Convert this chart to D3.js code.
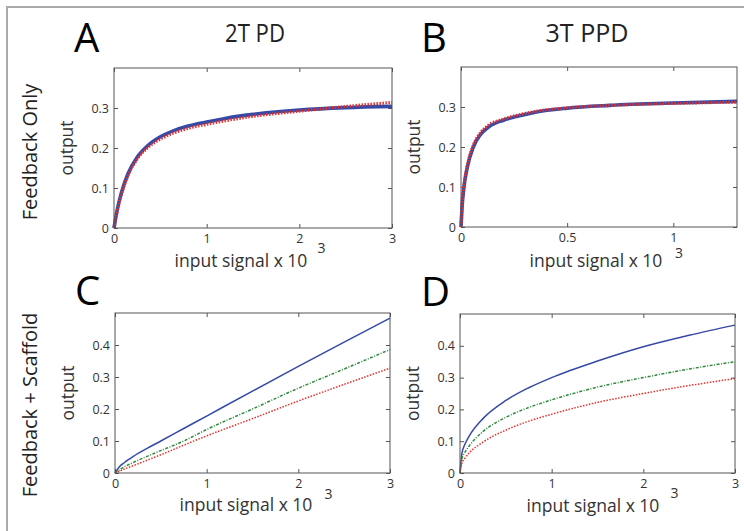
<!DOCTYPE html>
<html>
<head>
<meta charset="utf-8">
<script src="https://cdn.jsdelivr.net/npm/d3@7"></script>
<style>
  body { margin: 0; background: #fff; }
  text { font-family: "Open Sans", sans-serif; }
</style>
</head>
<body>
<svg width="744" height="531"></svg>
<script>

// ---- data ----
var xA     = [0, 0.03, 0.08, 0.15, 0.25, 0.36, 0.5, 0.64, 0.8, 1.0, 1.2, 1.5, 2.0, 2.5, 3.0];
var blueA  = [0, 0.04, 0.088, 0.135, 0.177, 0.205, 0.228, 0.243, 0.255, 0.265, 0.274, 0.284, 0.295, 0.301, 0.304];
var redA   = [0, 0.037, 0.084, 0.13, 0.172, 0.2, 0.222, 0.237, 0.249, 0.259, 0.268, 0.279, 0.292, 0.304, 0.314];

var xB     = [0, 0.005, 0.014, 0.03, 0.058, 0.09, 0.13, 0.2, 0.26, 0.35, 0.5, 0.7, 1.0, 1.3];
var blueB  = [0, 0.05, 0.1, 0.15, 0.2, 0.23, 0.25, 0.267, 0.276, 0.287, 0.297, 0.304, 0.31, 0.314];
var redB   = [0, 0.055, 0.105, 0.155, 0.205, 0.235, 0.255, 0.27, 0.279, 0.289, 0.298, 0.304, 0.309, 0.312];

var xC     = [0, 0.05, 0.1, 0.2, 0.35, 0.5, 0.75, 1, 1.5, 2, 2.5, 3];
var blueC  = [0, 0.02, 0.032, 0.052, 0.077, 0.1, 0.139, 0.178, 0.256, 0.333, 0.409, 0.484];
var greenC = [0, 0.01, 0.019, 0.033, 0.052, 0.07, 0.1, 0.136, 0.2, 0.265, 0.325, 0.386];
var redC   = [0, 0.006, 0.012, 0.023, 0.04, 0.057, 0.087, 0.116, 0.17, 0.225, 0.277, 0.328];

var xD     = [0, 0.02, 0.05, 0.1, 0.25, 0.5, 0.75, 1, 1.5, 2, 2.5, 3];
var blueD  = [0, 0.06, 0.088, 0.116, 0.171, 0.228, 0.268, 0.3, 0.352, 0.397, 0.433, 0.465];
var greenD = [0, 0.043, 0.063, 0.085, 0.13, 0.175, 0.206, 0.23, 0.27, 0.3, 0.327, 0.35];
var redD   = [0, 0.03, 0.045, 0.063, 0.097, 0.135, 0.163, 0.185, 0.222, 0.25, 0.275, 0.297];

var ticks3   = [0, 1, 2, 3];
var ticksB   = [0, 0.5, 1];
var yTicksAB = [0, 0.1, 0.2, 0.3];
var yTicksCD = [0, 0.1, 0.2, 0.3, 0.4];

var rowLabels = ["Feedback Only", "Feedback + Scaffold"];
var colTitles = ["2T PD", "3T PPD"];

// ---- styles ----
var BLUE = "#3549a6", RED = "#e5312b", GREEN = "#2d8a3c";
var thick = [
  { color: BLUE, width: 3.6, dash: null },
  { color: RED,  width: 3,   dash: "1.5,1.5" }
];
var thin = [
  { color: BLUE,  width: 1.5, dash: null },
  { color: GREEN, width: 1.5, dash: "3,1.5,1,1.5" },
  { color: RED,   width: 1.5, dash: "1.5,1.5" }
];

// layout of each panel (pixels), sup = superscript offsets [dx from label end, dy from label baseline]
var panels = [
  { letter: "A", lx: 74,  ly: 52,  left: 114, top: 68,  w: 278, h: 160, xmax: 3,   ymax: 0.4, xt: ticks3, yt: yTicksAB,
    xs: xA, series: [blueA, redA], st: thick, xlab: 241, lab: 38.5, sup: [10, -14] },
  { letter: "B", lx: 421, ly: 52,  left: 461, top: 67,  w: 276, h: 160, xmax: 1.3, ymax: 0.4, xt: ticksB, yt: yTicksAB,
    xs: xB, series: [blueB, redB], st: thick, xlab: 596, lab: 40, sup: [12.5, -9] },
  { letter: "C", lx: 75,  ly: 305, left: 115, top: 313, w: 275, h: 160, xmax: 3,   ymax: 0.5, xt: ticks3, yt: yTicksCD,
    xs: xC, series: [blueC, greenC, redC], st: thin, xlab: 246, lab: 38, sup: [12, -12] },
  { letter: "D", lx: 421, ly: 306, left: 460, top: 314, w: 275, h: 159, xmax: 3,   ymax: 0.5, xt: ticks3, yt: yTicksCD,
    xs: xD, series: [blueD, greenD, redD], st: thin, xlab: 593, lab: 38.5, sup: [11, -14] }
];

var svg = d3.select("svg");

// outer frame (top + left edges only)
svg.append("path")
  .attr("d", "M7,531 L7,7 L744,7")
  .attr("fill", "none")
  .attr("stroke", "#aaa")
  .attr("stroke-width", 2);

// row labels
svg.append("text")
  .attr("transform", "translate(37,152) rotate(-90)")
  .attr("text-anchor", "middle")
  .attr("font-size", 20).attr("fill", "#222")
  .text(rowLabels[0]);
svg.append("text")
  .attr("transform", "translate(37,405) rotate(-90)")
  .attr("text-anchor", "middle")
  .attr("font-size", 20).attr("fill", "#222")
  .text(rowLabels[1]);

// column titles
svg.append("text").attr("x", 255).attr("y", 42)
  .attr("text-anchor", "middle").attr("font-size", 26)
  .attr("textLength", 60).attr("lengthAdjust", "spacingAndGlyphs")
  .attr("fill", "#222").text(colTitles[0]);
svg.append("text").attr("x", 587).attr("y", 42)
  .attr("text-anchor", "middle").attr("font-size", 26)
  .attr("textLength", 83).attr("lengthAdjust", "spacingAndGlyphs")
  .attr("fill", "#222").text(colTitles[1]);

var fmt = d3.format("~g");

function drawPanel(p) {
  svg.append("text").attr("x", p.lx).attr("y", p.ly)
    .attr("font-size", 40).attr("fill", "#000").text(p.letter);

  let g = svg.append("g").attr("transform", `translate(${p.left},${p.top})`);
  let x = d3.scaleLinear().domain([0, p.xmax]).range([0, p.w]);
  let y = d3.scaleLinear().domain([0, p.ymax]).range([p.h, 0]);

  // inward ticks on all four sides
  let axes = [
    g.append("g").attr("transform", `translate(0,${p.h})`)
      .call(d3.axisBottom(x).tickValues(p.xt).tickFormat(fmt).tickSizeInner(-4).tickSizeOuter(0).tickPadding(6)),
    g.append("g")
      .call(d3.axisLeft(y).tickValues(p.yt).tickFormat(fmt).tickSizeInner(-4).tickSizeOuter(0).tickPadding(5)),
    g.append("g")
      .call(d3.axisTop(x).tickValues(p.xt).tickFormat("").tickSizeInner(-4).tickSizeOuter(0)),
    g.append("g").attr("transform", `translate(${p.w},0)`)
      .call(d3.axisRight(y).tickValues(p.yt).tickFormat("").tickSizeInner(-4).tickSizeOuter(0))
  ];
  axes.forEach(a => {
    a.select(".domain").remove();
    a.selectAll("line").attr("stroke", "#555");
    a.selectAll("text").attr("font-size", 12.5).attr("fill", "#333")
      .style("font-family", '"Open Sans", sans-serif');
  });

  // curves
  let line = d3.line().curve(d3.curveMonotoneX)
    .x(d => x(d[0])).y(d => y(d[1]));
  p.series.forEach((s, i) => {
    let st = p.st[i];
    g.append("path")
      .datum(p.xs.map((v, k) => [v, s[k]]))
      .attr("d", line)
      .attr("fill", "none")
      .attr("stroke", st.color)
      .attr("stroke-width", st.width)
      .attr("stroke-dasharray", st.dash);
  });

  // box
  g.append("rect").attr("width", p.w).attr("height", p.h)
    .attr("fill", "none").attr("stroke", "#555").attr("stroke-width", 1);

  // axis labels
  g.append("text")
    .attr("transform", `translate(-41,${p.h / 2}) rotate(-90)`)
    .attr("text-anchor", "middle").attr("font-size", 17.5).attr("fill", "#333")
    .text("output");
  let base = p.top + p.h + p.lab;
  let xl = svg.append("text")
    .attr("x", p.xlab).attr("y", base)
    .attr("text-anchor", "middle").attr("font-size", 17.5).attr("fill", "#333")
    .text("input signal x 10");
  let bb = xl.node().getBBox();
  svg.append("text")
    .attr("x", bb.x + bb.width + p.sup[0]).attr("y", base + p.sup[1])
    .attr("font-size", 14).attr("fill", "#333").text("3");
}

panels.forEach(drawPanel);

</script>
</body>
</html>
